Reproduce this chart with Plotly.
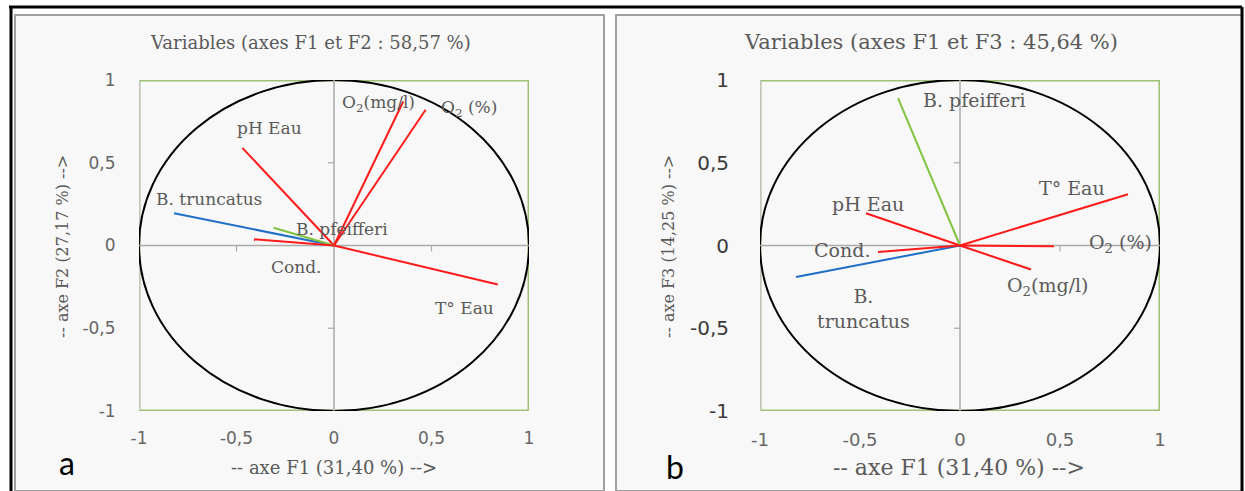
import plotly.graph_objects as go

W, H = 1245, 491

# ---------------- data ----------------
variables = ["pH Eau", "O2(mg/l)", "O2 (%)", "B. truncatus", "B. pfeifferi", "Cond.", "T° Eau"]
f1 = [-0.47, 0.355, 0.47, -0.82, -0.31, -0.41, 0.84]
f2 = [0.59, 0.87, 0.82, 0.195, 0.107, 0.038, -0.236]
f3 = [0.195, -0.145, -0.005, -0.19, 0.89, -0.04, 0.31]
var_kind = ["env", "env", "env", "truncatus", "pfeifferi", "env", "env"]

tick_vals = [-1, -0.5, 0, 0.5, 1]
tick_text = ["-1", "-0,5", "0", "0,5", "1"]

title_a = "Variables (axes F1 et F2 : 58,57 %)"
title_b = "Variables (axes F1 et F3 : 45,64 %)"
xtitle = "-- axe F1 (31,40 %) -->"
ytitle_a = "-- axe F2 (27,17 %) -->"
ytitle_b = "-- axe F3 (14,25 %) -->"

# label text and label anchor positions (data coords)
label_text_a = ["pH Eau", "O<sub>2</sub>(mg/l)", "O<sub>2</sub> (%)", "B. truncatus",
                "B. pfeifferi", "Cond.", "T° Eau"]
label_pos_a = [(-0.33, 0.71), (0.23, 0.86), (0.69, 0.83), (-0.64, 0.28),
               (0.04, 0.10), (-0.195, -0.13), (0.67, -0.375)]
label_text_b = ["pH Eau", "O<sub>2</sub>(mg/l)", "O<sub>2</sub> (%)", "B.<br>truncatus",
                "B. pfeifferi", "Cond.", "T° Eau"]
label_pos_b = [(-0.46, 0.25), (0.44, -0.25), (0.80, 0.01), (-0.485, -0.38),
               (0.07, 0.88), (-0.59, -0.03), (0.56, 0.35)]

# ---------------- styles ----------------
COLORS = {"env": "#FF1A1A", "truncatus": "#1F6FC8", "pfeifferi": "#82C341"}
TXT = "#5A5A5A"
SERIF = "DejaVu Serif"
SANS = "DejaVu Sans"
GREEN_BORDER = "#A0C076"


def px(x):
    return x / W


def py(y):
    return 1 - y / H


fig = go.Figure()

panels = [
    dict(xa="x", ya="y", xdom=(139, 529), ydom=(80, 411), fy=f2, lab=label_text_a,
         pos=label_pos_a, title=title_a, tcx=310, ytitle=ytitle_a, ytx=62, xtcx=334,
         letter="a", lx=67, ly=462, tsize=18, xts=18, lsize=17, tick_x=17, tick_y=17,
         ylen=19, ytcol="#666666"),
    dict(xa="x2", ya="y2", xdom=(760, 1160), ydom=(80, 411), fy=f3, lab=label_text_b,
         pos=label_pos_b, title=title_b, tcx=931, ytitle=ytitle_b, ytx=668, xtcx=959,
         letter="b", lx=675, ly=466, tsize=21, xts=22, lsize=19, tick_x=18, tick_y=20,
         ylen=26, ytcol="#3A3A3A"),
]

shapes = []
annotations = []

# outer frames
shapes += [
    dict(type="rect", xref="paper", yref="paper", x0=px(15), x1=px(604), y0=0, y1=py(15),
         line=dict(color="#A0A0A0", width=2), fillcolor="#F8F8F8", layer="below"),
    dict(type="rect", xref="paper", yref="paper", x0=px(616), x1=px(1242), y0=0, y1=py(15),
         line=dict(color="#A0A0A0", width=2), fillcolor="#F8F8F8", layer="below"),
    dict(type="line", xref="paper", yref="paper", x0=px(9), x1=px(1242), y0=py(7), y1=py(7),
         line=dict(color="black", width=3)),
    dict(type="line", xref="paper", yref="paper", x0=px(11), x1=px(11), y0=py(7), y1=0,
         line=dict(color="black", width=3)),
    dict(type="line", xref="paper", yref="paper", x0=px(1242), x1=px(1242), y0=py(7), y1=0,
         line=dict(color="black", width=3)),
]

for i, p in enumerate(panels):
    sfx = "" if i == 0 else "2"
    xa, ya = p["xa"], p["ya"]
    axis_common = dict(range=[-1, 1], tickvals=tick_vals, ticktext=tick_text, showgrid=False,
                       zeroline=False, showline=False, ticks="outside", automargin=False,
                       tickcolor="rgba(0,0,0,0)", fixedrange=True)
    fig.update_layout(**{
        "xaxis" + sfx: dict(axis_common, domain=[px(p["xdom"][0]), px(p["xdom"][1])],
                            anchor=ya, ticklen=12,
                            tickfont=dict(family=SANS, size=p["tick_x"], color="#666666")),
        "yaxis" + sfx: dict(axis_common, domain=[py(p["ydom"][1]), py(p["ydom"][0])],
                            anchor=xa, ticklen=p["ylen"],
                            tickfont=dict(family=SANS, size=p["tick_y"], color=p["ytcol"])),
    })
    xr = xa
    yr = ya
    # plot area border (green) + gray left edge
    shapes.append(dict(type="rect", xref=xr, yref=yr, x0=-1, x1=1, y0=-1, y1=1,
                       line=dict(color=GREEN_BORDER, width=3), layer="below"))
    shapes.append(dict(type="line", xref=xr, yref=yr, x0=-1, x1=-1, y0=-1, y1=1,
                       line=dict(color="#C4C4C4", width=2), layer="below"))
    # correlation circle
    shapes.append(dict(type="circle", xref=xr, yref=yr, x0=-1, x1=1, y0=-1, y1=1,
                       line=dict(color="black", width=2), layer="below"))
    # axes through origin
    shapes.append(dict(type="line", xref=xr, yref=yr, x0=-1, x1=1, y0=0, y1=0,
                       line=dict(color="#ABABAB", width=1.5), layer="below"))
    shapes.append(dict(type="line", xref=xr, yref=yr, x0=0, x1=0, y0=-1, y1=1,
                       line=dict(color="#ABABAB", width=1.5), layer="below"))
    # small tick marks on the origin axes
    for t in tick_vals:
        if t in (-1, 0, 1):
            continue
        shapes.append(dict(type="line", xref=xr, yref=yr, x0=t, x1=t, ysizemode="pixel",
                           yanchor=0, y0=0, y1=-6, line=dict(color="#ABABAB", width=1.2),
                           layer="below"))
        shapes.append(dict(type="line", xref=xr, yref=yr, y0=t, y1=t, xsizemode="pixel",
                           xanchor=0, x0=0, x1=-6, line=dict(color="#ABABAB", width=1.2),
                           layer="below"))
    # vectors
    for v, fx, fyv, kind in zip(variables, f1, p["fy"], var_kind):
        fig.add_trace(go.Scatter(x=[0, fx], y=[0, fyv], mode="lines", xaxis=xa, yaxis=ya,
                                 line=dict(color=COLORS[kind], width=2), name=v,
                                 showlegend=False, hoverinfo="skip"))
    # variable labels
    for txt, (lx, ly) in zip(p["lab"], p["pos"]):
        annotations.append(dict(x=lx, y=ly, xref=xr, yref=yr, text=txt, showarrow=False,
                                xanchor="center", yanchor="middle",
                                font=dict(family=SERIF, size=p["lsize"], color=TXT)))
    # title
    annotations.append(dict(x=px(p["tcx"]), y=py(42), xref="paper", yref="paper",
                            text=p["title"], showarrow=False, xanchor="center", yanchor="middle",
                            font=dict(family=SERIF, size=p["tsize"], color=TXT)))
    # axis titles
    annotations.append(dict(x=px(p["xtcx"]), y=py(467), xref="paper", yref="paper",
                            text=xtitle, showarrow=False, xanchor="center", yanchor="middle",
                            font=dict(family=SERIF, size=p["xts"], color=TXT)))
    annotations.append(dict(x=px(p["ytx"]), y=py(247), xref="paper", yref="paper",
                            text=p["ytitle"], showarrow=False, textangle=-90,
                            xanchor="center", yanchor="middle",
                            font=dict(family=SERIF, size=16, color=TXT)))
    # panel letter
    annotations.append(dict(x=px(p["lx"]), y=py(p["ly"]), xref="paper", yref="paper",
                            text=p["letter"], showarrow=False, xanchor="center", yanchor="middle",
                            font=dict(family="Lato", size=32, color="black")))

fig.update_layout(width=W, height=H, autosize=False,
                  margin=dict(l=0, r=0, t=0, b=0, pad=0),
                  paper_bgcolor="#FFFFFF", plot_bgcolor="rgba(0,0,0,0)",
                  shapes=shapes, annotations=annotations, showlegend=False)

fig.write_html("out.html", config={"displayModeBar": False},
               post_script="document.body.style.margin='0';document.body.style.overflow='hidden';")
